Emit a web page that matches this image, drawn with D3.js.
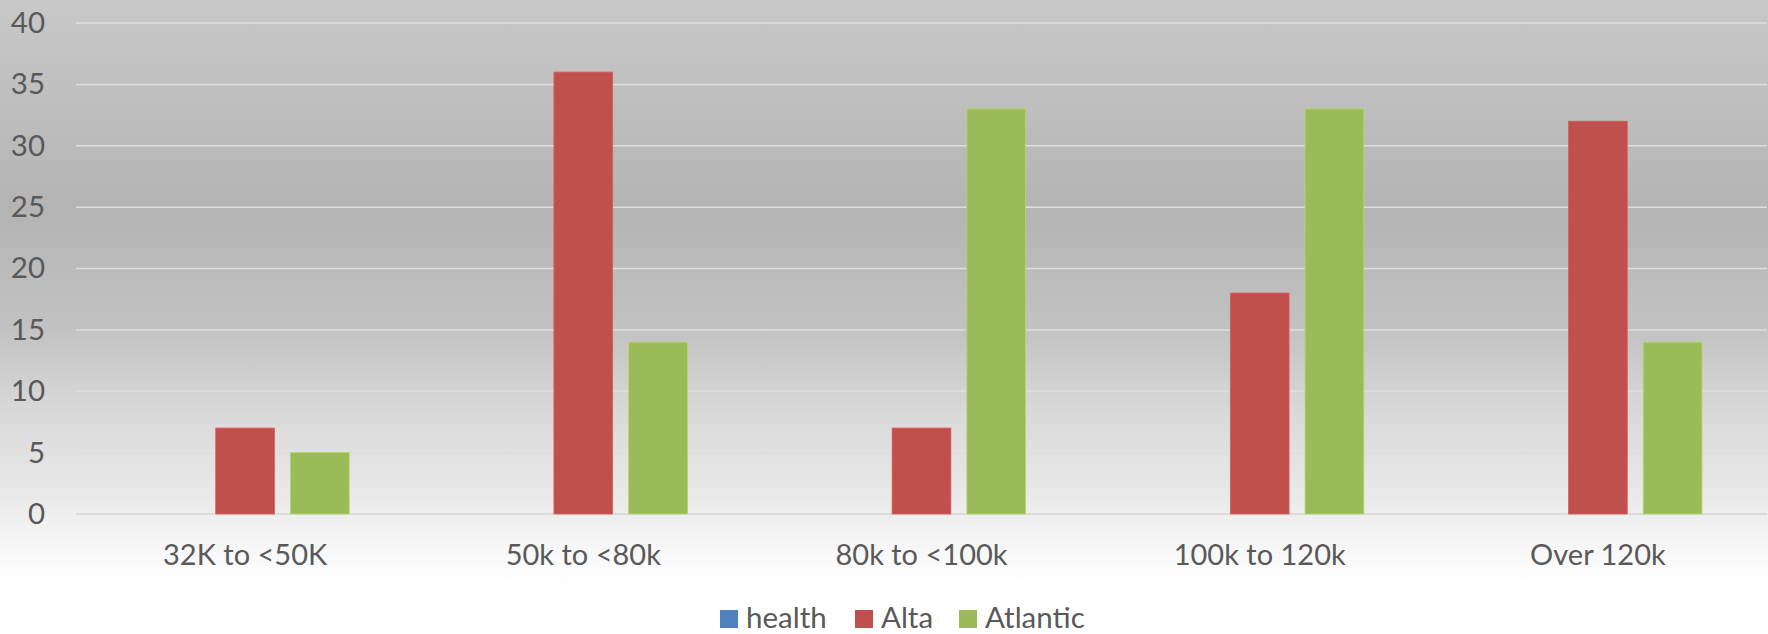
<!DOCTYPE html>
<html>
<head>
<meta charset="utf-8">
<script src="https://cdn.jsdelivr.net/npm/d3@7"></script>
<style>
  html, body { margin: 0; padding: 0; background: #fff; }
  svg { display: block; }
  text { font-family: Lato, "Noto Sans", sans-serif; fill: #595959; }
</style>
</head>
<body>
<svg id="chart" width="1768" height="634"></svg>
<script>
// Income bands and counts per organisation
const categories = ["32K to <50K", "50k to <80k", "80k to <100k", "100k to 120k", "Over 120k"];
const seriesNames = ["health", "Alta", "Atlantic"];
const healthValues = [0, 0, 0, 0, 0];
const altaValues = [7, 36, 7, 18, 32];
const atlanticValues = [5, 14, 33, 33, 14];
const yTicks = [0, 5, 10, 15, 20, 25, 30, 35, 40];
const seriesColors = ["#4f81bd", "#c0504d", "#9bbb59"];

const seriesValues = [healthValues, altaValues, atlanticValues];

const W = 1768, H = 634;
const margin = { left: 76, right: 1, top: 22, bottom: 120 };
const fontSize = 29.5;
const svg = d3.select("#chart");

// Background gradient
const defs = svg.append("defs");
const grad = defs.append("linearGradient")
  .attr("id", "bg").attr("x1", 0).attr("y1", 0).attr("x2", 0).attr("y2", 1);
[
  [0, "#c8c8c8"], [0.33, "#b4b4b4"], [0.52, "#c2c2c2"], [0.65, "#d9d9d9"],
  [0.78, "#e9e9e9"], [0.86, "#f6f6f6"], [0.92, "#ffffff"], [1, "#ffffff"]
].forEach(([o, c]) => grad.append("stop").attr("offset", o).attr("stop-color", c));
svg.append("rect").attr("width", W).attr("height", H).attr("fill", "url(#bg)");

const x0 = d3.scaleBand()
  .domain(categories)
  .range([margin.left, W - margin.right])
  .padding(0);

const x1 = d3.scaleBand()
  .domain(seriesNames)
  .range([0, x0.bandwidth()])
  .paddingInner(0.214)
  .paddingOuter(0.87);

const y = d3.scaleLinear()
  .domain([0, 40])
  .range([514, margin.top + 1]);

// Gridlines
svg.append("g")
  .selectAll("line")
  .data(yTicks)
  .join("line")
  .attr("x1", margin.left)
  .attr("x2", W - margin.right)
  .attr("y1", d => y(d))
  .attr("y2", d => y(d))
  .attr("stroke", d => d === 0 ? "#d6d6d6" : "#dedede")
  .attr("stroke-width", 1.5);

// Y axis labels
const yAxis = d3.axisLeft(y).tickValues(yTicks).tickSize(0).tickPadding(0);
const gy = svg.append("g").attr("transform", "translate(45,0)").call(yAxis);
gy.select(".domain").remove();
gy.selectAll("text")
  .attr("font-size", fontSize)
  .style("font-family", "Lato, 'Noto Sans', sans-serif")
  .attr("fill", "#595959");

// Bars
const groups = svg.append("g")
  .selectAll("g")
  .data(categories)
  .join("g")
  .attr("transform", d => `translate(${x0(d)},0)`);

groups.selectAll("rect")
  .data((d, i) => seriesNames.map((s, j) => ({ s, j, v: seriesValues[j][i] })))
  .join("rect")
  .attr("x", d => x1(d.s))
  .attr("width", x1.bandwidth())
  .attr("y", d => y(d.v))
  .attr("height", d => y(0) - y(d.v))
  .attr("fill", d => seriesColors[d.j])
  .attr("stroke", d => d.v > 0 ? d3.color(seriesColors[d.j]).brighter(0.4) : "none")
  .attr("stroke-width", 0.8);

// X axis labels
const xAxis = d3.axisBottom(x0).tickSize(0).tickPadding(0);
const gx = svg.append("g").attr("transform", "translate(0,565)").call(xAxis);
gx.select(".domain").remove();
gx.selectAll("text")
  .attr("font-size", 29)
  .attr("dy", 0)
  .attr("y", 0)
  .style("font-family", "Lato, 'Noto Sans', sans-serif")
  .attr("fill", "#595959");

// Legend
const legendX = [720, 855, 959];
const legend = svg.append("g");
seriesNames.forEach((name, i) => {
  legend.append("rect")
    .attr("x", legendX[i]).attr("y", 610)
    .attr("width", 18).attr("height", 18)
    .attr("fill", seriesColors[i]);
  legend.append("text")
    .attr("x", legendX[i] + 26).attr("y", 628)
    .attr("font-size", fontSize)
    .attr("fill", "#595959")
    .text(name);
});
</script>
</body>
</html>
